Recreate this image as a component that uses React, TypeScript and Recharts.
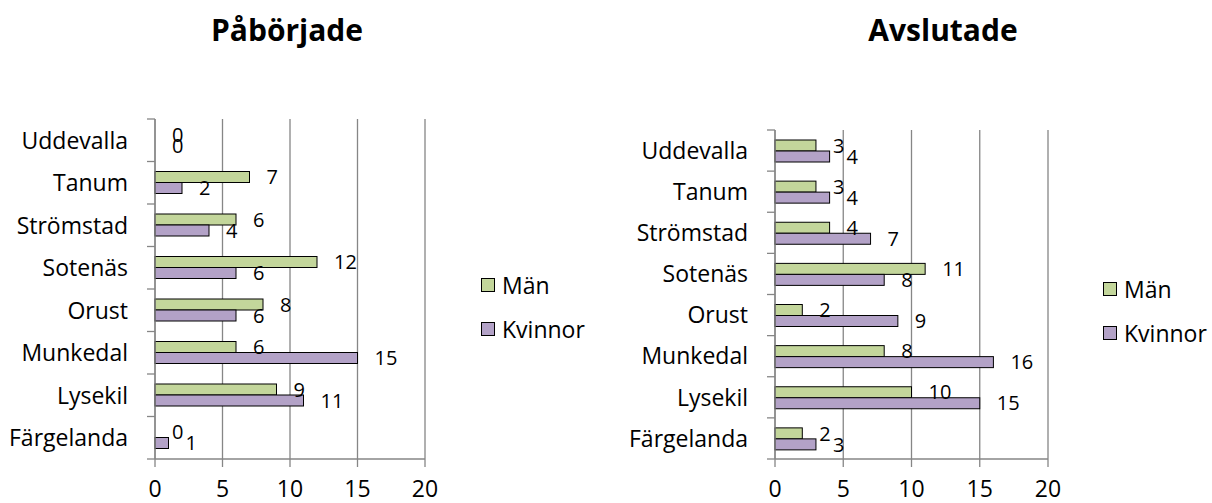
import React from 'react';
import { BarChart, Bar, XAxis, YAxis, CartesianGrid, LabelList, Legend } from 'recharts';

const categories = ['Uddevalla', 'Tanum', 'Strömstad', 'Sotenäs', 'Orust', 'Munkedal', 'Lysekil', 'Färgelanda'];

const startedMen = [0, 7, 6, 12, 8, 6, 9, 0];
const startedWomen = [0, 2, 4, 6, 6, 15, 11, 1];

const finishedMen = [3, 3, 4, 11, 2, 8, 10, 2];
const finishedWomen = [4, 4, 7, 8, 9, 16, 15, 3];

const xTicks = [0, 5, 10, 15, 20];

const FONT = '"Open Sans", "Noto Sans", sans-serif';
const GRID = '#868686';
const GREEN = '#c3d69b';
const PURPLE = '#b3a2c7';

const buildRows = (men: number[], women: number[]) =>
  categories.map((name, i) => ({ name, man: men[i], kvinna: women[i] }));

// category labels with Excel-style tick marks on the band boundaries
const makeCategoryTick = (axisX: number, band: number) => (props: any) => {
  const { y, payload, index } = props;
  const top = y - band / 2;
  const bottom = y + band / 2;
  return (
    <g>
      <line x1={axisX - 8} x2={axisX} y1={top} y2={top} stroke={GRID} strokeWidth={1.3} />
      {index === categories.length - 1 && (
        <line x1={axisX - 8} x2={axisX} y1={bottom} y2={bottom} stroke={GRID} strokeWidth={1.3} />
      )}
      <text x={axisX - 27} y={y} dy="0.36em" textAnchor="end" fontSize={23} fontFamily={FONT} fill="#000">
        {payload.value}
      </text>
    </g>
  );
};

// zero values still need an entry (for their "0" label), but no visible bar
const keepZero = (value: any) => (Number(value) === 0 ? 0.01 : 0);

const BarShape = (props: any) => {
  const { x, y, width, height, fill } = props;
  if (!(width >= 1)) return null;
  return <rect x={x} y={y} width={width} height={height} fill={fill} stroke="#000" strokeWidth={1} />;
};

// value label right of the bar end, also drawn for zero values
const renderValue = (props: any) => {
  const { x, y, width, height, value } = props;
  const w = Number(width) >= 1 ? Number(width) : 0;
  return (
    <text
      x={Number(x) + w + 17}
      y={Number(y) + Number(height) / 2}
      dy="0.36em"
      fontSize={20}
      fontFamily={FONT}
      fill="#000"
    >
      {value}
    </text>
  );
};

const LegendBox = () => (
  <div style={{ fontFamily: FONT, fontSize: 23, color: '#000' }}>
    {[
      { label: 'Män', color: GREEN },
      { label: 'Kvinnor', color: PURPLE },
    ].map((item, i) => (
      <div key={item.label} style={{ display: 'flex', alignItems: 'center', height: 30, marginTop: i ? 14 : 0 }}>
        <span
          style={{
            width: 12,
            height: 12,
            background: item.color,
            border: '1.5px solid #000',
            display: 'inline-block',
            marginRight: 7,
          }}
        />
        <span>{item.label}</span>
      </div>
    ))}
  </div>
);

interface PanelProps {
  title: string;
  titleX: number;
  men: number[];
  women: number[];
  left: number;
  top: number;
  yAxisWidth: number;
  right: number;
  legendX: number;
  legendY: number;
}

function Panel({ title, titleX, men, women, left, top, yAxisWidth, right, legendX, legendY }: PanelProps) {
  const width = 606;
  const height = 503;
  const xAxisHeight = 44;
  const band = (height - xAxisHeight - top) / categories.length;
  const data = buildRows(men, women);

  return (
    <div style={{ position: 'absolute', left, top: 0, width, height }}>
      <div
        style={{
          position: 'absolute',
          left: titleX - 150,
          width: 300,
          top: 10,
          textAlign: 'center',
          fontFamily: FONT,
          fontWeight: 700,
          fontSize: 30,
          lineHeight: '40px',
          color: '#000',
        }}
      >
        {title}
      </div>
      <BarChart
        width={width}
        height={height}
        data={data}
        layout="vertical"
        margin={{ top, right, bottom: 0, left: 0 }}
        barGap={0}
        barSize={11}
      >
        <CartesianGrid horizontal={false} vertical stroke={GRID} strokeWidth={1.3} />
        <XAxis
          type="number"
          domain={[0, 20]}
          ticks={xTicks}
          height={xAxisHeight}
          axisLine={{ stroke: GRID, strokeWidth: 1.3 }}
          tickLine={{ stroke: GRID, strokeWidth: 1.3 }}
          tickSize={8}
          tickMargin={14}
          tick={{ fill: '#000', fontSize: 23, fontFamily: FONT }}
        />
        <YAxis
          type="category"
          dataKey="name"
          width={yAxisWidth}
          axisLine={{ stroke: GRID, strokeWidth: 1.3 }}
          tickLine={false}
          interval={0}
          tick={makeCategoryTick(yAxisWidth, band)}
        />
        <Legend
          layout="vertical"
          align="center"
          verticalAlign="middle"
          content={() => <LegendBox />}
          wrapperStyle={{ left: legendX, top: legendY, width: 'auto' }}
        />
        <Bar
          dataKey="man"
          name="Män"
          fill={GREEN}
          minPointSize={keepZero}
          shape={BarShape}
          isAnimationActive={false}
        >
          <LabelList dataKey="man" content={renderValue} />
        </Bar>
        <Bar
          dataKey="kvinna"
          name="Kvinnor"
          fill={PURPLE}
          minPointSize={keepZero}
          shape={BarShape}
          isAnimationActive={false}
        >
          <LabelList dataKey="kvinna" content={renderValue} />
        </Bar>
      </BarChart>
    </div>
  );
}

export default function App() {
  return (
    <div style={{ position: 'absolute', left: 0, top: 0, width: 1212, height: 503, background: '#fff' }}>
      <Panel
        title="Påbörjade"
        titleX={287}
        men={startedMen}
        women={startedWomen}
        left={0}
        top={119}
        yAxisWidth={155}
        right={181}
        legendX={481}
        legendY={270}
      />
      <Panel
        title="Avslutade"
        titleX={337}
        men={finishedMen}
        women={finishedWomen}
        left={606}
        top={130}
        yAxisWidth={169}
        right={164}
        legendX={497}
        legendY={274}
      />
    </div>
  );
}
